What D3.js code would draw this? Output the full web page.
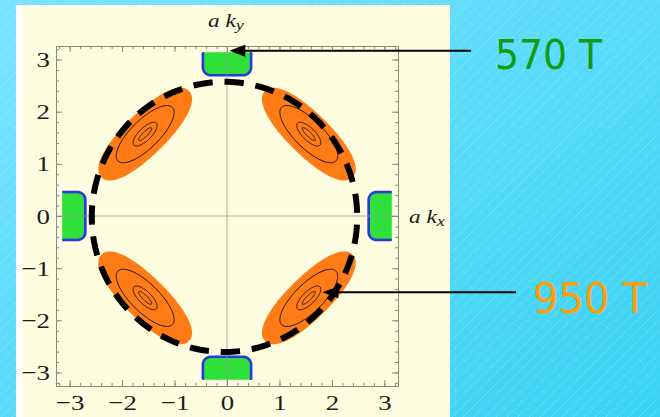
<!DOCTYPE html>
<html>
<head>
<meta charset="utf-8">
<script src="https://cdn.jsdelivr.net/npm/d3@7"></script>
<style>
  html, body { margin: 0; padding: 0; background: #5cdafa; }
  svg { display: block; }
</style>
</head>
<body>
<svg id="chart" width="660" height="417"></svg>
<script>
// ---- values (units of 1/a) ----
const axisDomain = [-3.26, 3.26];
const majorTicks = [-3, -2, -1, 0, 1, 2, 3];
const minorTicks = [-3.2, -3.0, -2.8, -2.6, -2.4, -2.2, -2.0, -1.8, -1.6, -1.4, -1.2, -1.0, -0.8, -0.6, -0.4, -0.2,
                    0, 0.2, 0.4, 0.6, 0.8, 1.0, 1.2, 1.4, 1.6, 1.8, 2.0, 2.2, 2.4, 2.6, 2.8, 3.0, 3.2];

// hole pockets (orange): centres and semi-axes (along the zone boundary, across it)
const holeCentres = [[-1.56, 1.57], [1.56, 1.57], [-1.56, -1.57], [1.56, -1.57]];
const holeSemiAxes = [1.175, 0.40];
// constant-energy contours inside each hole pocket
const holeContours = [[0.73, 0.27], [0.30, 0.12], [0.17, 0.045]];

// electron pockets (green) sitting on the zone edges
const electronSides = [[0, 1], [0, -1], [-1, 0], [1, 0]];
const electronInner = 2.70;
const electronHalfWidth = 0.46;
const zoneEdge = Math.PI;

// large dashed Fermi circle
const circleCentre = [-0.048, -0.017];
const circleRadii = [2.53, 2.59];

// oscillation frequencies and the pockets they point at
const freqLabels = ["570 T", "950 T"];
const freqColours = ["#129a12", "#ff9d0a"];
const freqTargets = [[0.044, 3.17], [1.82, -1.46]];

// ---- drawing ----
const svg = d3.select("#chart");
const W = 660, H = 417;
const defs = svg.append("defs");

const sky = defs.append("linearGradient").attr("id", "sky")
  .attr("x1", 0).attr("y1", 0).attr("x2", 1).attr("y2", 1);
sky.append("stop").attr("offset", 0).attr("stop-color", "#7ae3ff");
sky.append("stop").attr("offset", 1).attr("stop-color", "#38d2f5");

const hatch = defs.append("pattern").attr("id", "hatch")
  .attr("patternUnits", "userSpaceOnUse").attr("width", 11).attr("height", 11);
hatch.append("line").attr("x1", -1).attr("y1", 12).attr("x2", 12).attr("y2", -1)
  .attr("stroke", "#ffffff").attr("stroke-opacity", 0.45)
  .attr("stroke-width", 0.8).attr("stroke-dasharray", "1.2 1.2");

svg.append("rect").attr("width", W).attr("height", H).attr("fill", "url(#sky)");
svg.append("rect").attr("width", W).attr("height", H).attr("fill", "url(#hatch)");

// panel behind the plot
svg.append("rect").attr("x", 16).attr("y", 5).attr("width", 434).attr("height", 412).attr("fill", "#ffffff");
svg.append("rect").attr("x", 22).attr("y", 5).attr("width", 428).attr("height", 412).attr("fill", "#fffde0");

const fr = { left: 56, right: 398, top: 46, bottom: 386 };
const x = d3.scaleLinear().domain(axisDomain).range([fr.left, fr.right]);
const y = d3.scaleLinear().domain(axisDomain).range([fr.bottom, fr.top]);

const closedLine = d3.line().x(d => x(d[0])).y(d => y(d[1])).curve(d3.curveLinearClosed);
const openLine = d3.line().x(d => x(d[0])).y(d => y(d[1]));

const plot = svg.append("g");

// electron pockets: outline in a local frame (u along the edge, v outward)
function pocketOutline(side) {
  const n = side, t = [n[1], -n[0]];
  const w = electronHalfWidth, vi = electronInner, r = 0.15;
  const local = [[-w, zoneEdge]];
  d3.range(0, 11).forEach(i => {
    const th = Math.PI + (Math.PI / 2) * i / 10;
    local.push([-w + r + r * Math.cos(th), vi + r + r * Math.sin(th)]);
  });
  d3.range(0, 11).forEach(i => {
    const th = 1.5 * Math.PI + (Math.PI / 2) * i / 10;
    local.push([w - r + r * Math.cos(th), vi + r + r * Math.sin(th)]);
  });
  local.push([w, zoneEdge]);
  return local.map(([u, v]) => [n[0] * v + t[0] * u, n[1] * v + t[1] * u]);
}

plot.selectAll("path.e-fill").data(electronSides).join("path")
  .attr("class", "e-fill")
  .attr("d", d => closedLine(pocketOutline(d)))
  .attr("fill", "#2fe03a");
plot.selectAll("path.e-edge").data(electronSides).join("path")
  .attr("class", "e-edge")
  .attr("d", d => openLine(pocketOutline(d)))
  .attr("fill", "none").attr("stroke", "#2a36e0").attr("stroke-width", 2.6);

// ellipse elongated along the zone boundary, centred on c
function lobePoints(c, a, b, p = 2) {
  const r = Math.hypot(c[0], c[1]);
  const nx = c[0] / r, ny = c[1] / r;
  const tx = -ny, ty = nx;
  return d3.range(160).map(i => {
    const th = 2 * Math.PI * i / 160;
    const cs = Math.cos(th), sn = Math.sin(th);
    const u = a * Math.sign(cs) * Math.pow(Math.abs(cs), 2 / p);
    const v = b * Math.sign(sn) * Math.pow(Math.abs(sn), 2 / p);
    return [c[0] + tx * u + nx * v, c[1] + ty * u + ny * v];
  });
}

plot.selectAll("path.hole").data(holeCentres).join("path")
  .attr("class", "hole")
  .attr("d", c => closedLine(lobePoints(c, holeSemiAxes[0], holeSemiAxes[1], 2.2)))
  .attr("fill", "#ff7b15");

holeCentres.forEach(c => {
  plot.selectAll(null).data(holeContours).join("path")
    .attr("d", s => closedLine(lobePoints(c, s[0], s[1])))
    .attr("fill", "none").attr("stroke", "#1a1008").attr("stroke-width", 1);
});

// zero axes through the origin
plot.append("line").attr("x1", x(0)).attr("x2", x(0)).attr("y1", fr.top).attr("y2", fr.bottom)
  .attr("stroke", "#9a9a92").attr("stroke-opacity", 0.8).attr("stroke-width", 1);
plot.append("line").attr("x1", fr.left).attr("x2", fr.right).attr("y1", y(0)).attr("y2", y(0))
  .attr("stroke", "#9a9a92").attr("stroke-opacity", 0.8).attr("stroke-width", 1);

// frame with inward ticks
const frameColour = "#8c8a7e";
const fmt = d3.format("d");
const stretch = 1.22;

function styleAxis(g) {
  g.select(".domain").attr("stroke", frameColour).attr("stroke-width", 1);
  g.selectAll(".tick line").attr("stroke", frameColour);
}
function minor(axis) {
  return axis.tickValues(minorTicks).tickSize(-3).tickSizeOuter(0).tickFormat("");
}

const gLeft = svg.append("g").attr("transform", `translate(${fr.left},0)`)
  .call(d3.axisLeft(y).tickValues(majorTicks).tickSize(-6).tickSizeOuter(0).tickPadding(6).tickFormat(fmt));
const gBottom = svg.append("g").attr("transform", `translate(0,${fr.bottom})`)
  .call(d3.axisBottom(x).tickValues(majorTicks).tickSize(-6).tickSizeOuter(0).tickPadding(8).tickFormat(fmt));
const gTop = svg.append("g").attr("transform", `translate(0,${fr.top})`)
  .call(d3.axisTop(x).tickValues(majorTicks).tickSize(-6).tickSizeOuter(0).tickFormat(""));
const gRight = svg.append("g").attr("transform", `translate(${fr.right},0)`)
  .call(d3.axisRight(y).tickValues(majorTicks).tickSize(-6).tickSizeOuter(0).tickFormat(""));
[gLeft, gBottom, gTop, gRight].forEach(styleAxis);

svg.append("g").attr("transform", `translate(${fr.left},0)`).call(minor(d3.axisLeft(y))).call(styleAxis);
svg.append("g").attr("transform", `translate(0,${fr.bottom})`).call(minor(d3.axisBottom(x))).call(styleAxis);
svg.append("g").attr("transform", `translate(0,${fr.top})`).call(minor(d3.axisTop(x))).call(styleAxis);
svg.append("g").attr("transform", `translate(${fr.right},0)`).call(minor(d3.axisRight(y))).call(styleAxis);

[gLeft, gBottom].forEach(g => g.selectAll(".tick text")
  .attr("font-family", "'Liberation Serif', 'Times New Roman', serif")
  .attr("font-size", 22).attr("fill", "#1a1a1a"));
gLeft.selectAll(".tick text").attr("x", 0).attr("transform", `translate(-6,0) scale(${stretch},1)`);
gBottom.selectAll(".tick text").attr("transform", `scale(${stretch},1)`);

// axis titles
function axisTitle(px, py, sub) {
  const t = svg.append("text")
    .attr("transform", `translate(${px},${py}) scale(${stretch},1)`)
    .attr("font-family", "'Liberation Serif', 'Times New Roman', serif")
    .attr("font-style", "italic").attr("font-size", 19).attr("fill", "#1a1a1a");
  t.append("tspan").text("a k");
  t.append("tspan").attr("font-size", 15).attr("dy", 3).text(sub);
}
axisTitle(208, 27, "y");
axisTitle(409, 223, "x");

// dashed circle
const circ = d3.range(240).map(i => {
  const th = 2 * Math.PI * i / 240;
  return [circleCentre[0] + circleRadii[0] * Math.sin(th), circleCentre[1] + circleRadii[1] * Math.cos(th)];
});
const ring = svg.append("path").attr("d", closedLine(circ))
  .attr("fill", "none").attr("stroke", "#000").attr("stroke-width", 6);
const L = ring.node().getTotalLength();
const period = L / 27;
ring.attr("stroke-dasharray", `${period * 0.62} ${period * 0.38}`);

// frequency annotations with arrows
const lineEnds = [471, 516];
const labelPos = [[495, 69, 40, 107], [533, 313, 43.5, 114]];
freqTargets.forEach((tg, i) => {
  const tx = x(tg[0]), ty = y(tg[1]);
  const headLen = 16, headHalf = 6;
  svg.append("line").attr("x1", tx + headLen - 1).attr("y1", ty).attr("x2", lineEnds[i]).attr("y2", ty)
    .attr("stroke", "#000").attr("stroke-width", 2);
  svg.append("path")
    .attr("d", `M${tx},${ty}L${tx + headLen},${ty - headHalf}L${tx + headLen},${ty + headHalf}Z`)
    .attr("fill", "#000");
  const [lx, ly, fs, tl] = labelPos[i];
  svg.append("text").attr("x", lx).attr("y", ly)
    .attr("font-family", "'DejaVu Sans', Verdana, sans-serif")
    .attr("font-size", fs).attr("fill", freqColours[i])
    .attr("textLength", tl).attr("lengthAdjust", "spacingAndGlyphs")
    .text(freqLabels[i]);
});
</script>
</body>
</html>
